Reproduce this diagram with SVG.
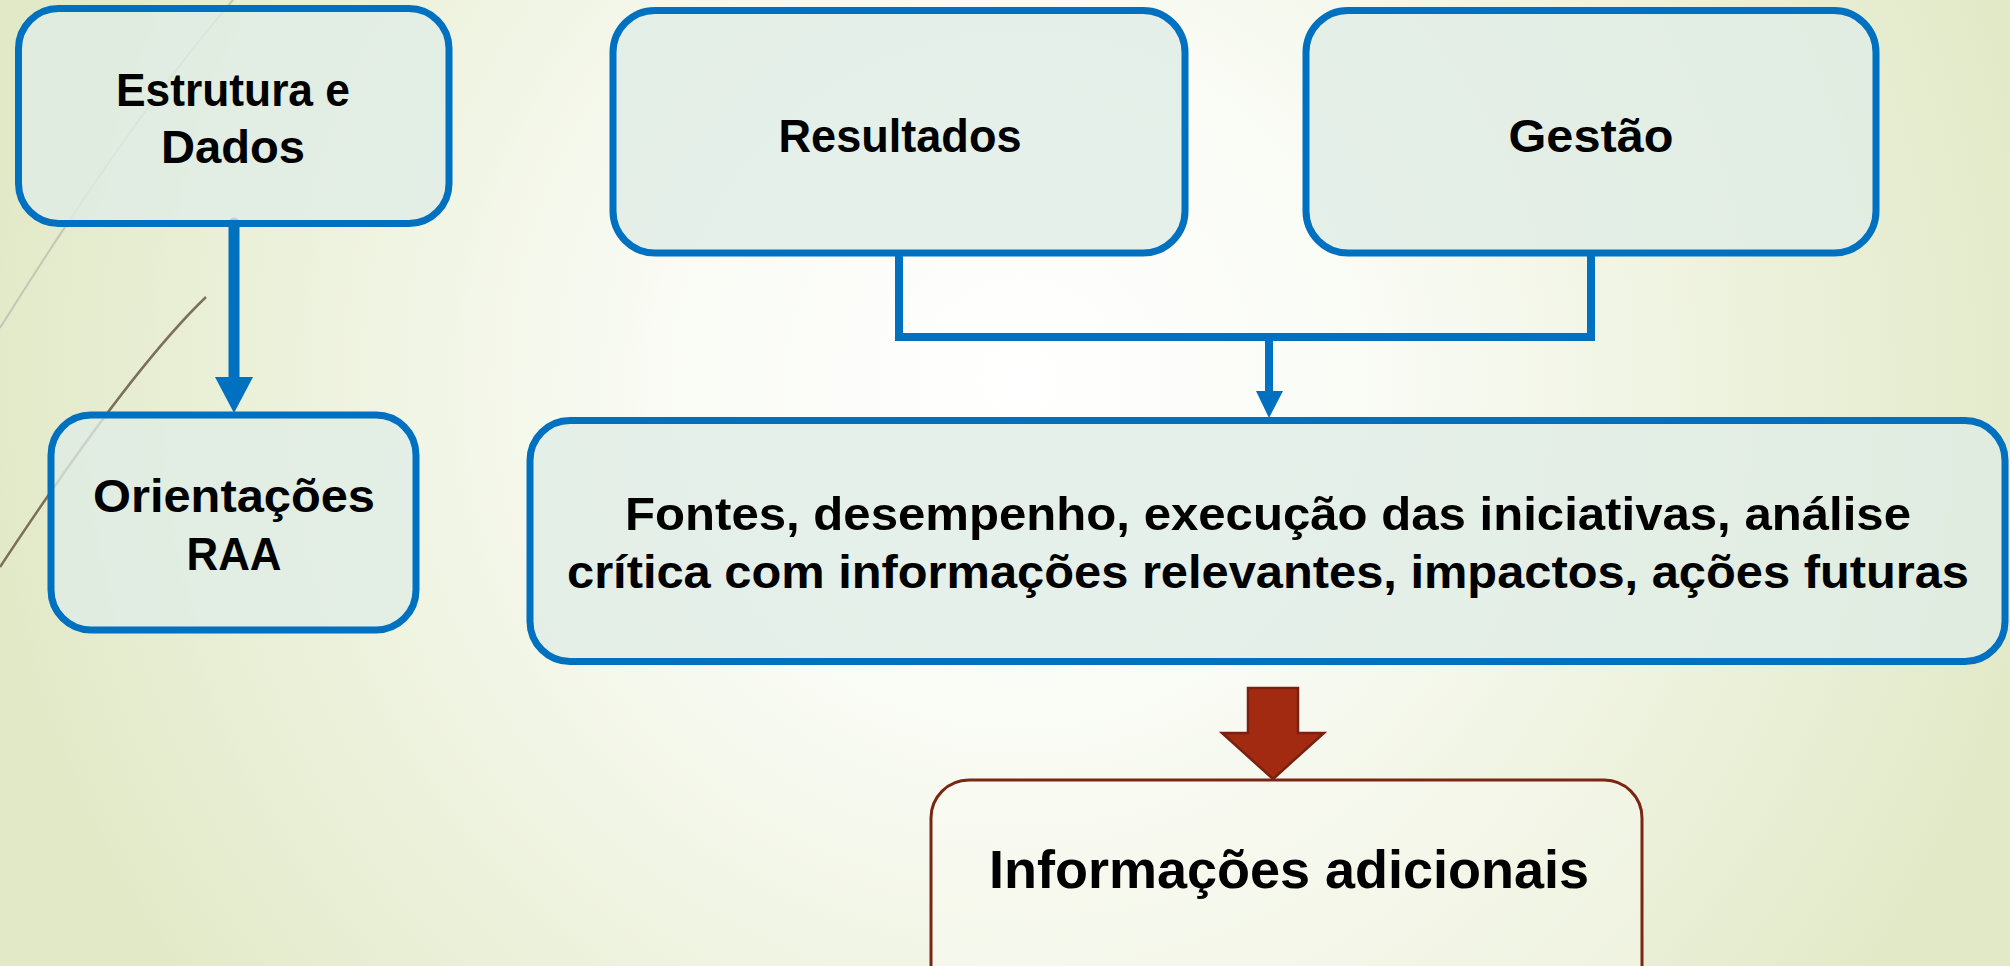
<svg xmlns="http://www.w3.org/2000/svg" width="2010" height="966" viewBox="0 0 2010 966">
<defs>
<radialGradient id="bg" gradientUnits="userSpaceOnUse" cx="1020" cy="380" r="1050">
<stop offset="0" stop-color="#ffffff"/>
<stop offset="0.35" stop-color="#f9fbf4"/>
<stop offset="1" stop-color="#e2e9c7"/>
</radialGradient>
<style>
.box{fill:#e0ece6;fill-opacity:0.8;stroke:#0070c0;stroke-width:7}
.info{fill:#fbfcf6;fill-opacity:0.35;stroke:#7a2614;stroke-width:3}
.t{font-family:"Liberation Sans",Arial,sans-serif;font-weight:bold;fill:#000;text-anchor:middle}
.ln{fill:none;stroke:#0070c0;stroke-width:8;stroke-linejoin:miter}
.hd{fill:#0070c0}
</style>
</defs>
<rect x="0" y="0" width="2010" height="966" fill="url(#bg)"/>
<g id="decor">
<path d="M233 0 Q130 120 0 328" fill="none" stroke="#c6c6b6" stroke-width="2"/>
<path d="M206 297 Q130 370 0 567" fill="none" stroke="#7b705a" stroke-width="2.5"/>
</g>
<g id="connectors">
<line x1="234" y1="223" x2="234" y2="380" stroke="#0070c0" stroke-width="11" stroke-linecap="round"/>
<polygon class="hd" points="215,377 253,377 234,413"/>
<path class="ln" d="M899 253 V337 H1591 V253"/>
<line x1="1269" y1="337" x2="1269" y2="394" stroke="#0070c0" stroke-width="8"/>
<polygon class="hd" points="1256,391 1283,391 1269,418"/>
<polygon points="1248,688 1298,688 1298,733 1324,733 1273,779 1222,733 1248,733" fill="#a12a10" stroke="#7a2010" stroke-width="2.5" stroke-linejoin="miter"/>
</g>
<g id="node-estrutura">
<rect class="box" x="18.5" y="8.5" width="430.5" height="215" rx="40" ry="40"/>
<text class="t" x="233" y="106" font-size="47" textLength="234" lengthAdjust="spacingAndGlyphs">Estrutura e</text>
<text class="t" x="233" y="163" font-size="47" textLength="144" lengthAdjust="spacingAndGlyphs">Dados</text>
</g>
<g id="node-orientacoes">
<rect class="box" x="51" y="415" width="365" height="215" rx="40" ry="40"/>
<text class="t" x="234" y="512" font-size="47" textLength="282" lengthAdjust="spacingAndGlyphs">Orientações</text>
<text class="t" x="234" y="570" font-size="47" textLength="95" lengthAdjust="spacingAndGlyphs">RAA</text>
</g>
<g id="node-resultados">
<rect class="box" x="613" y="10.5" width="572" height="242.5" rx="42" ry="42"/>
<text class="t" x="900" y="152" font-size="47" textLength="243" lengthAdjust="spacingAndGlyphs">Resultados</text>
</g>
<g id="node-gestao">
<rect class="box" x="1306" y="10.5" width="570" height="242.5" rx="42" ry="42"/>
<text class="t" x="1591" y="152" font-size="47" textLength="165" lengthAdjust="spacingAndGlyphs">Gestão</text>
</g>
<g id="node-fontes">
<rect class="box" x="530" y="420.5" width="1475" height="241" rx="40" ry="40"/>
<text class="t" x="1268" y="530" font-size="47" textLength="1286" lengthAdjust="spacingAndGlyphs">Fontes, desempenho, execução das iniciativas, análise</text>
<text class="t" x="1268" y="588" font-size="47" textLength="1402" lengthAdjust="spacingAndGlyphs">crítica com informações relevantes, impactos, ações futuras</text>
</g>
<g id="node-info">
<rect class="info" x="931" y="780" width="711" height="240" rx="38" ry="38"/>
<text class="t" x="1289" y="888" font-size="54" textLength="600" lengthAdjust="spacingAndGlyphs">Informações adicionais</text>
</g>
</svg>
